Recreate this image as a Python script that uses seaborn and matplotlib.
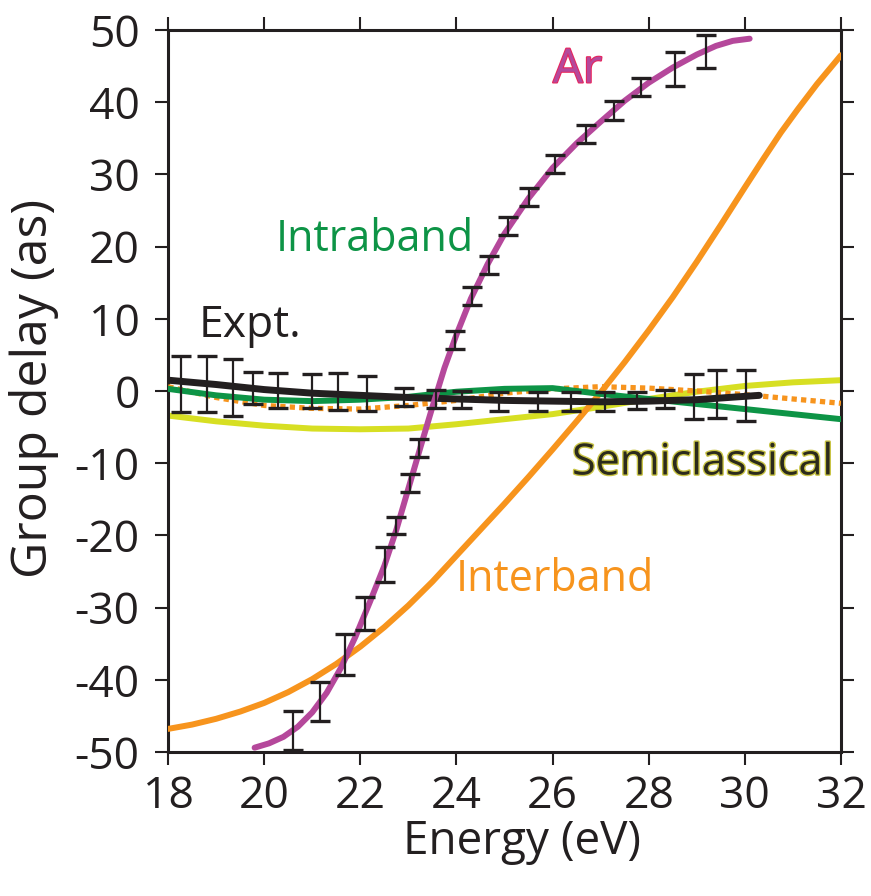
import matplotlib
matplotlib.use("Agg")
import matplotlib.pyplot as plt
import matplotlib.patheffects as pe
import seaborn as sns
import numpy as np

# ---------------- data ----------------
ar_x = [19.8, 20.1, 20.4, 20.7, 21.0, 21.3, 21.6, 21.9, 22.2, 22.5, 22.75, 23.0, 23.25,
        23.5, 23.75, 24.0, 24.3, 24.65, 25.0, 25.5, 26.0, 26.5, 27.0, 27.5, 28.0, 28.5,
        29.0, 29.4, 29.75, 30.1]
ar_y = [-49.4, -48.8, -47.9, -46.5, -44.5, -41.8, -38.3, -34.0, -29.2, -24.2, -19.2, -13.5, -7.8,
        -2.2, 3.2, 7.8, 12.8, 17.6, 21.8, 26.7, 30.9, 34.3, 37.3, 40.2, 42.7, 44.8,
        46.6, 47.8, 48.5, 48.8]

inter_x = [18, 18.5, 19, 19.5, 20, 20.5, 21, 21.5, 22, 22.5, 23, 23.5, 24, 24.5, 25, 25.5,
           26, 26.5, 27, 27.5, 28, 28.5, 29, 29.5, 30, 30.4, 30.75, 31.1, 31.5, 32]
inter_y = [-46.8, -46.2, -45.4, -44.4, -43.2, -41.7, -39.9, -37.8, -35.4, -32.7, -29.7, -26.4,
           -22.8, -19.2, -15.6, -11.9, -8.1, -4.2, -0.2, 4.0, 8.4, 13.0, 17.9, 23.0, 28.2,
           32.3, 35.8, 39.0, 42.5, 46.5]

intra_x = [18, 19, 20, 21, 22, 23, 24, 25, 26, 27, 28, 29, 30, 31, 32]
intra_y = [0.3, -0.6, -1.2, -1.4, -1.2, -0.8, -0.1, 0.3, 0.4, -0.4, -1.1, -1.8, -2.5, -3.2, -3.9]

dot_x = [18, 19, 20, 21, 22, 23, 24, 25, 26, 27, 28, 29, 30, 31, 32]
dot_y = [0.6, -0.9, -2.0, -2.4, -2.5, -2.0, -1.3, -0.3, 0.3, 0.6, 0.4, 0.0, -0.5, -1.1, -1.7]

semi_x = [18, 19, 20, 21, 22, 23, 24, 25, 26, 27, 28, 29, 30, 31, 32]
semi_y = [-3.4, -4.2, -4.8, -5.2, -5.3, -5.2, -4.6, -3.9, -3.2, -2.2, -1.1, -0.1, 0.7, 1.2, 1.5]

expt_x = [18, 19, 20, 21, 22, 23, 24, 25, 26, 27, 28, 29, 30.3]
expt_y = [1.5, 0.9, 0.2, -0.3, -0.6, -0.9, -1.1, -1.3, -1.4, -1.5, -1.4, -1.2, -0.6]

# Ar error bars (x, low, high)
ar_eb_x = [20.59, 21.17, 21.68, 22.10, 22.51, 22.75, 23.03, 23.22, 23.97, 24.33, 24.67,
           25.08, 25.51, 26.05, 26.69, 27.27, 27.83, 28.54, 29.20]
ar_eb_lo = [-49.7, -45.7, -39.4, -33.1, -26.4, -19.8, -14.0, -9.2, 5.8, 11.9, 16.2,
            21.6, 25.6, 30.2, 34.4, 37.6, 40.8, 42.3, 44.7]
ar_eb_hi = [-44.3, -40.3, -33.7, -28.5, -21.6, -17.4, -11.5, -6.7, 8.3, 14.4, 18.7,
            24.1, 28.1, 32.7, 36.9, 40.2, 43.4, 46.9, 49.3]

# Expt. error bars
ex_eb_x = [18.26, 18.80, 19.35, 19.77, 20.29, 21.00, 21.53, 22.13, 22.90, 23.57, 24.11,
           24.88, 25.69, 26.39, 27.10, 27.75, 28.33, 28.94, 29.43, 30.03]
ex_eb_lo = [-2.9, -2.9, -3.5, -1.8, -2.3, -2.3, -2.6, -2.7, -2.1, -2.3, -2.4,
            -2.7, -2.7, -2.7, -2.7, -2.5, -2.4, -3.9, -3.8, -4.2]
ex_eb_hi = [4.9, 4.9, 4.5, 2.7, 2.5, 2.3, 2.5, 2.1, 0.4, 0.2, 0.0,
            -0.2, -0.2, -0.2, -0.1, -0.2, 0.1, 2.3, 2.9, 2.9]

x_ticks = [18, 20, 22, 24, 26, 28, 30, 32]
y_ticks = [-50, -40, -30, -20, -10, 0, 10, 20, 30, 40, 50]

# ---------------- colours ----------------
C_AR = "#b5489b"
C_OR = "#f7941d"
C_GR = "#0d9446"
C_YE = "#d7df23"
C_BK = "#231f20"

sns.set_theme(style="white")
plt.rcParams['font.family'] = ['Open Sans', 'DejaVu Sans']

fig = plt.figure(figsize=(8.71, 8.96), dpi=100)
ax = fig.add_axes([0.193, 0.1607, 0.7725, 0.8058])

lw = 4.3
sns.lineplot(x=semi_x, y=semi_y, ax=ax, color=C_YE, lw=lw, zorder=2)
sns.lineplot(x=inter_x, y=inter_y, ax=ax, color=C_OR, lw=lw, zorder=3)
sns.lineplot(x=dot_x, y=dot_y, ax=ax, color=C_OR, lw=3.8, zorder=3)
ax.lines[-1].set_dashes((1.0, 0.8))
sns.lineplot(x=intra_x, y=intra_y, ax=ax, color=C_GR, lw=lw, zorder=4)
sns.lineplot(x=expt_x, y=expt_y, ax=ax, color=C_BK, lw=5.0, zorder=5)
sns.lineplot(x=ar_x, y=ar_y, ax=ax, color=C_AR, lw=lw, zorder=6)

def draw_eb(xs, lo, hi):
    xs = np.asarray(xs); lo = np.asarray(lo); hi = np.asarray(hi)
    mid = (lo + hi) / 2.0
    ax.errorbar(xs, mid, yerr=[mid - lo, hi - mid], fmt='none', ecolor=C_BK,
                elinewidth=1.6, capsize=7, capthick=2.4, zorder=7)

draw_eb(ar_eb_x, ar_eb_lo, ar_eb_hi)
draw_eb(ex_eb_x, ex_eb_lo, ex_eb_hi)

ax.set_xlim(18, 32)
ax.set_ylim(-50, 50)
ax.set_xticks(x_ticks)
ax.set_yticks(y_ticks)
ax.set_xticklabels([str(t) for t in x_ticks])
ax.set_yticklabels([str(t) for t in y_ticks])

for s in ax.spines.values():
    s.set_visible(True)
    s.set_color(C_BK)
    s.set_linewidth(2.2)

ax.tick_params(axis='both', which='major', direction='out', length=9.5, width=1.5,
               color=C_BK, labelsize=32, labelcolor=C_BK,
               top=True, right=True, bottom=True, left=True,
               labeltop=False, labelright=False)
ax.tick_params(axis='y', pad=11)
ax.tick_params(axis='x', pad=7)

ax.set_xlabel("Energy (eV)", fontsize=33, color=C_BK)
ax.set_ylabel("Group delay (as)", fontsize=36, color=C_BK)
ax.xaxis.set_label_coords(0.526, -0.093)
ax.yaxis.set_label_coords(-0.162, 0.503)

# labels
ax.text(26.52, 44.5, "Ar", color=C_AR, fontsize=34, ha='center', va='center',
        path_effects=[pe.withStroke(linewidth=1.5, foreground="#e8245a")], zorder=8)
ax.text(22.3, 20.9, "Intraband", color=C_GR, fontsize=31, ha='center', va='center', zorder=8)
ax.text(19.7, 9.1, "Expt.", color=C_BK, fontsize=32, ha='center', va='center', zorder=8)
ax.text(29.12, -10.0, "Semiclassical", color="#2b2a1c", fontsize=31, ha='center', va='center',
        path_effects=[pe.withStroke(linewidth=2.0, foreground="#c9c446")], zorder=8)
ax.text(26.05, -26.2, "Interband", color=C_OR, fontsize=31, ha='center', va='center', zorder=8)

ax.set_facecolor("white")
fig.patch.set_facecolor("white")
fig.savefig("out.png", dpi=100, facecolor="white")
